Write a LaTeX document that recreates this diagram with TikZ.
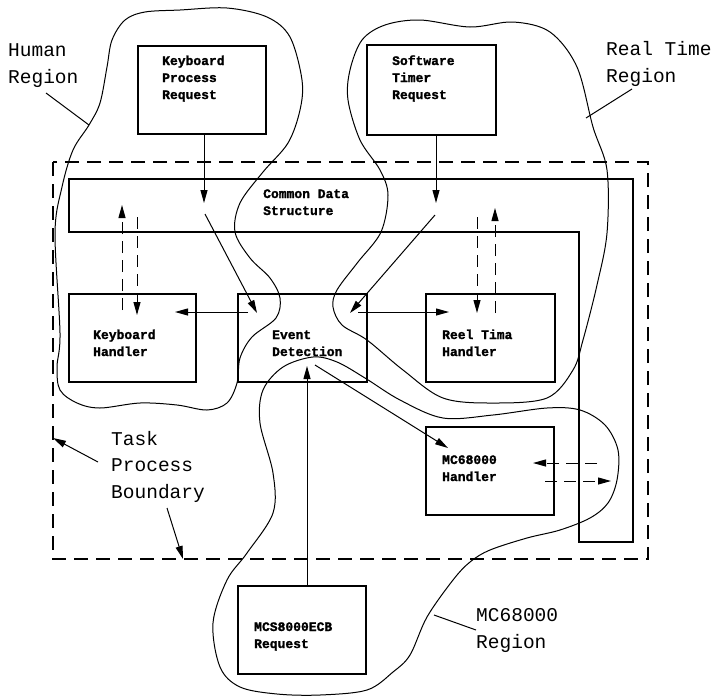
\documentclass[tikz,border=0pt]{standalone}
\usepackage{fontspec}
\setmonofont{Liberation Mono}
\usetikzlibrary{arrows.meta}
\newfontfamily\boxfont{Liberation Mono}[FakeBold=1.5]
\tikzset{
  box/.style={draw, line width=1.3pt, inner sep=0pt},
  boxtxt/.style={anchor=base west, inner sep=0pt, align=left, font=\boxfont\fontsize{13}{17}\selectfont\bfseries},
  lbl/.style={anchor=base west, inner sep=0pt, align=left, font=\ttfamily\fontsize{19.5}{26.5}\selectfont},
  blob/.style={draw, line width=1pt, smooth cycle, tension=0.55},
  arr/.style={line width=1pt, -{Triangle[length=13pt,width=7pt]}},
  darr/.style={arr, dash pattern=on 12pt off 7pt},
  bound/.style={draw, line width=1.5pt, dash pattern=on 14pt off 8pt},
  leader/.style={line width=1pt}
}
\begin{document}
\begin{tikzpicture}[x=1pt,y=-1pt]
\useasboundingbox (0,0) rectangle (723,697);
% task process boundary
\draw[bound] (53,162) rectangle (648,559);
% common data structure
\draw[line width=1.3pt] (69,179) -- (633,179) -- (633,542) -- (579,542) -- (579,232) -- (69,232) -- cycle;
% boxes
\node[box, minimum width=128pt, minimum height=88pt] (kpr) at (202,90) {};
\node[box, minimum width=129pt, minimum height=90pt] (str) at (431.5,90) {};
\node[box, minimum width=127pt, minimum height=88pt] (kh) at (132.5,338) {};
\node[box, minimum width=129pt, minimum height=88pt] (ed) at (302.5,338) {};
\node[box, minimum width=129pt, minimum height=88pt] (rth) at (490.5,338) {};
\node[box, minimum width=128pt, minimum height=88pt] (mch) at (490,471) {};
\node[box, minimum width=128pt, minimum height=88pt] (mcs) at (302,630) {};
% box texts (anchored at baseline of last line)
\node[boxtxt] (kprt) at (162,99) {Keyboard\\Process\\Request};
\node[boxtxt] (strt) at (392,99) {Software\\Timer\\Request};
\node[boxtxt] (cdst) at (263,215) {Common Data\\Structure};
\node[boxtxt] (kht) at (93,356) {Keyboard\\Handler};
\node[boxtxt] (edt) at (272,356) {Event\\Detection};
\node[boxtxt] (rtht) at (442,356) {Reel Tima\\Handler};
\node[boxtxt] (mcht) at (442,481) {MC68000\\Handler};
\node[boxtxt] (mcst) at (254,648) {MCS8000ECB\\Request};
% region labels
\node[lbl] (hr) at (8,83) {Human\\Region};
\node[lbl] (rtr) at (606,82) {Real Time\\Region};
\node[lbl] (tpb) at (111,498) {Task\\Process\\Boundary};
\node[lbl] (mcr) at (476,648) {MC68000\\Region};
% blobs
\draw[blob] plot coordinates {(89,125) (100,103) (107,67) (112,40) (125,20) (145,12) (180,10) (227,8) (267,17) (290,37) (302,80) (300,110) (288,143) (263,172) (240,203) (235,232) (250,258) (270,278) (280,298) (276,318) (252,337) (240,358) (237,383) (227,403) (207,410) (177,405) (140,403) (100,408) (77,403) (60,390) (57,367) (60,333) (55,233) (62,187) (73,150)};
\draw[blob] plot coordinates {(385,25) (362,40) (350,70) (348,100) (360,140) (380,170) (388,195) (381,232) (358,262) (337,290) (333,307) (342,325) (367,340) (403,370) (443,398) (493,403) (547,398) (573,370) (583,340) (597,285) (607,233) (607,170) (593,127) (577,67) (550,32) (513,22) (470,27) (420,20)};
\draw[blob] plot coordinates {(313,357) (337,362) (365,378) (400,400) (443,418) (493,415) (547,408) (580,410) (605,425) (618,450) (617,480) (608,503) (590,518) (560,530) (527,538) (490,550) (470,562) (453,580) (427,617) (410,655) (393,672) (367,690) (320,695) (277,694) (240,687) (220,667) (213,623) (227,580) (247,553) (273,513) (273,473) (260,423) (263,390) (283,367)};
% coordinates for arrows
\coordinate (kpA) at (204,134);
\coordinate (kpB) at (204,203);
\coordinate (kpC) at (205,214);
\coordinate (edL) at (257,313);
\coordinate (stA) at (436,135);
\coordinate (stB) at (436,203);
\coordinate (stC) at (435,215);
\coordinate (edR) at (350,313);
\coordinate (edW) at (248,312);
\coordinate (khE) at (175,312);
\coordinate (edE) at (358,312);
\coordinate (rthW) at (449,312);
\coordinate (khU1) at (122,310);
\coordinate (cdU1) at (122,205);
\coordinate (cdD1) at (137,217);
\coordinate (khD1) at (137,315);
\coordinate (cdD2) at (477,217);
\coordinate (rthD2) at (477,313);
\coordinate (rthU2) at (495,313);
\coordinate (cdU2) at (495,208);
\coordinate (mcsN) at (307,586);
\coordinate (edS) at (307,366);
\coordinate (edSE) at (315,365);
\coordinate (mchNW) at (448,448);
\coordinate (mchA) at (597,463);
\coordinate (mchB) at (533,463);
\coordinate (mchC) at (545,481);
\coordinate (mchD) at (611,481);
% arrows
\draw[arr] (kpA) -- (kpB);
\draw[arr] (kpC) -- (edL);
\draw[arr] (stA) -- (stB);
\draw[arr] (stC) -- (edR);
\draw[arr] (edW) -- (khE);
\draw[arr] (edE) -- (rthW);
\draw[darr] (khU1) -- (cdU1);
\draw[darr] (cdD1) -- (khD1);
\draw[darr] (cdD2) -- (rthD2);
\draw[darr] (rthU2) -- (cdU2);
\draw[arr] (mcsN) -- (edS);
\draw[arr] (edSE) -- (mchNW);
\draw[darr] (mchA) -- (mchB);
\draw[darr] (mchC) -- (mchD);
% leaders
\coordinate (hrA) at (46,93);
\coordinate (hrB) at (89,125);
\coordinate (rtA) at (632,89);
\coordinate (rtB) at (586,118);
\coordinate (tpA) at (98,462);
\coordinate (tpB) at (53,438);
\coordinate (tpC) at (167,508);
\coordinate (tpD) at (183,559);
\coordinate (mrA) at (476,630);
\coordinate (mrB) at (434,615);
\draw[leader] (hrA) -- (hrB);
\draw[leader] (rtA) -- (rtB);
\draw[arr] (tpA) -- (tpB);
\draw[arr] (tpC) -- (tpD);
\draw[leader] (mrA) -- (mrB);
\end{tikzpicture}
\end{document}
